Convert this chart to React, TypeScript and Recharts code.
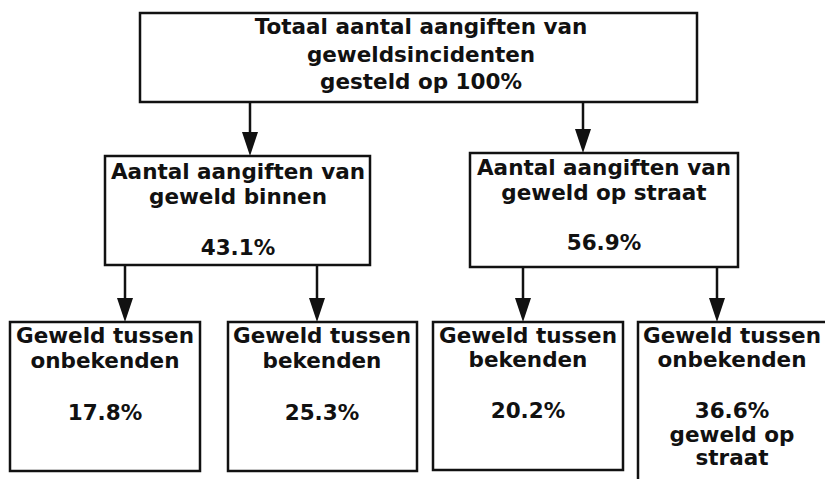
import React from "react";
import { ScatterChart, Scatter, XAxis, YAxis, ReferenceArea, ReferenceLine } from "recharts";

// ---------- data ----------
const nodeIds = ["totaal", "binnen", "straat", "binnenOnbekenden", "binnenBekenden", "straatBekenden", "straatOnbekenden"];
const parentIndex = [-1, 0, 0, 1, 1, 2, 2];
const titleLines = [
  ["Totaal aantal aangiften van", "geweldsincidenten"],
  ["Aantal aangiften van", "geweld binnen"],
  ["Aantal aangiften van", "geweld op straat"],
  ["Geweld tussen", "onbekenden"],
  ["Geweld tussen", "bekenden"],
  ["Geweld tussen", "bekenden"],
  ["Geweld tussen", "onbekenden"],
];
const sharePct = [100, 43.1, 56.9, 17.8, 25.3, 20.2, 36.6];
const valuePrefix = ["gesteld op ", "", "", "", "", "", ""];
const noteLines = [[], [], [], [], [], [], ["geweld op", "straat"]];

// ---------- layout (pixels in an 825 x 479 frame) ----------
const W = 825;
const H = 479;
const boxX0 = [140, 105, 470, 10, 228, 433, 638];
const boxX1 = [697, 370, 738, 200, 417, 623, 840];
const boxY0 = [13, 156, 153, 322, 322, 322, 322];
const boxY1 = [102, 265, 267, 471, 471, 470, 500];
const textCx = [421, 238, 604, 105, 322, 528, 732];
const lineBase = [
  [34, 62, 89],
  [179, 204, 255],
  [175, 200, 250],
  [343, 368, 420],
  [343, 368, 420],
  [343, 367, 418],
  [343, 367, 418, 442, 465],
];
const arrowX = [0, 250, 583, 125, 317, 523, 717];
const FONT = "'DejaVu Sans', Verdana, sans-serif";
const INK = "#111";

const fmt = (v: number) => (Number.isInteger(v) ? String(v) : v.toFixed(1));

const textPoints = nodeIds.map((id, i) => ({
  id,
  i,
  x: textCx[i],
  y: lineBase[i][0],
  lines: [...titleLines[i], `${valuePrefix[i]}${fmt(sharePct[i])}%`, ...noteLines[i]],
}));

const TextShape = (props: any) => {
  const { cx, cy, payload } = props;
  const base = lineBase[payload.i];
  return (
    <g>
      {payload.lines.map((t: string, k: number) => (
        <text
          key={k}
          x={cx}
          y={cy + (base[k] - base[0])}
          textAnchor="middle"
          fontFamily={FONT}
          fontWeight="bold"
          fontSize={21.5}
          fill={INK}
        >
          {t}
        </text>
      ))}
    </g>
  );
};

const ArrowShape = (props: any) => {
  const { x1, y1, x2, y2 } = props;
  const head = 24;
  const half = 8;
  return (
    <g>
      <line x1={x1} y1={y1} x2={x2} y2={y2 - head + 2} stroke={INK} strokeWidth={2.5} />
      <polygon points={`${x2 - half},${y2 - head} ${x2 + half},${y2 - head} ${x2},${y2}`} fill={INK} />
    </g>
  );
};

export default function App() {
  return (
    <div style={{ position: "absolute", left: 0, top: 0, width: W, height: H, background: "#fff" }}>
      <ScatterChart width={W} height={H} margin={{ top: 0, right: 0, bottom: 0, left: 0 }}>
        <XAxis type="number" dataKey="x" domain={[0, W]} allowDataOverflow hide height={0} />
        <YAxis type="number" dataKey="y" domain={[0, H]} allowDataOverflow reversed hide width={0} />
        {nodeIds.map((id, i) => (
          <ReferenceArea
            key={id}
            x1={boxX0[i]}
            x2={boxX1[i]}
            y1={boxY0[i]}
            y2={boxY1[i]}
            ifOverflow="visible"
            fill="#fff"
            fillOpacity={1}
            stroke={INK}
            strokeWidth={2.5}
          />
        ))}
        {nodeIds.map((id, i) =>
          parentIndex[i] < 0 ? null : (
            <ReferenceLine
              key={"a" + id}
              segment={[
                { x: arrowX[i], y: boxY1[parentIndex[i]] },
                { x: arrowX[i], y: boxY0[i] },
              ]}
              ifOverflow="visible"
              stroke={INK}
              shape={ArrowShape}
            />
          )
        )}
        <Scatter data={textPoints} isAnimationActive={false} shape={TextShape} />
      </ScatterChart>
    </div>
  );
}
